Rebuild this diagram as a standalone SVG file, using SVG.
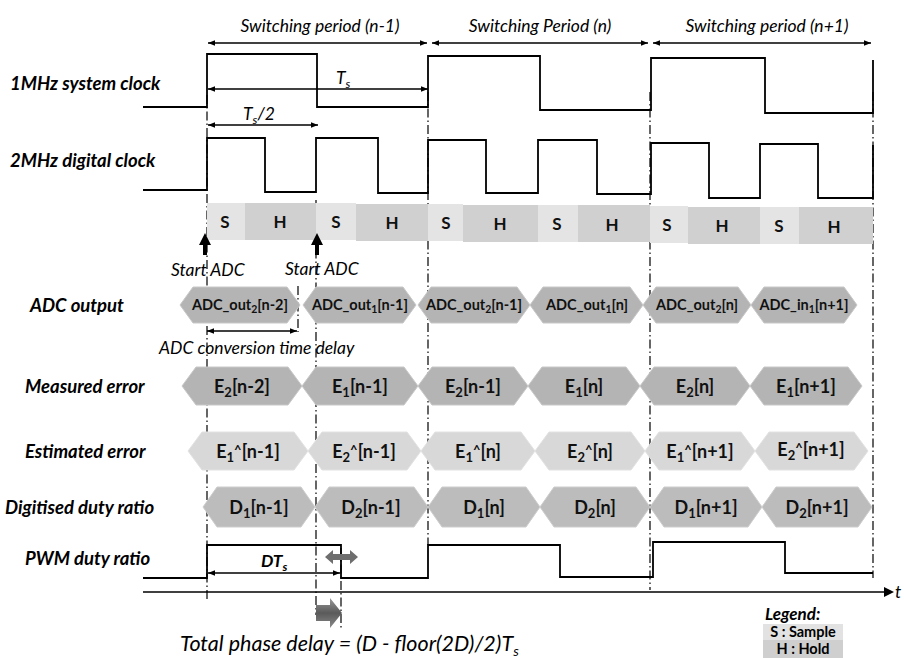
<svg xmlns="http://www.w3.org/2000/svg" width="904" height="658" viewBox="0 0 904 658">
<defs>
<marker id="ah" viewBox="0 0 10 10" refX="10" refY="5" markerWidth="7" markerHeight="7" orient="auto-start-reverse" markerUnits="userSpaceOnUse"><path d="M0,1 L10,5 L0,9 Z" fill="#000"/></marker>
<linearGradient id="bg" x1="0" y1="0" x2="0" y2="1"><stop offset="0" stop-color="#9a9a9a"/><stop offset="0.5" stop-color="#5a5a5a"/><stop offset="1" stop-color="#8a8a8a"/></linearGradient>
<style>
.w{fill:none;stroke:#000;stroke-width:1.8}
.dd{fill:none;stroke:#000;stroke-width:1.2;stroke-dasharray:9 3 1.5 3}
.dim{fill:none;stroke:#000;stroke-width:1.3;marker-start:url(#ah);marker-end:url(#ah)}
.lab{font-family:Lato,"Liberation Sans",sans-serif;font-weight:bold;font-style:italic;font-size:18.5px;fill:#000}
.it{font-family:Lato,"Liberation Sans",sans-serif;font-style:italic;font-size:17.5px;fill:#000}
.hx{font-family:Lato,"Liberation Sans",sans-serif;font-weight:bold;font-size:18px;fill:#111;text-anchor:middle}
.hs{font-family:Lato,"Liberation Sans",sans-serif;font-weight:bold;font-size:14.5px;fill:#111;text-anchor:middle}
.sh{font-family:Lato,"Liberation Sans",sans-serif;font-weight:bold;font-size:17px;fill:#111;text-anchor:middle}
.h1{fill:#b4b4b4;stroke:#c8c8c8;stroke-width:1}
.h2{fill:#d8d8d8;stroke:#e2e2e2;stroke-width:1}
.h3{fill:#bcbcbc;stroke:#cdcdcd;stroke-width:1}
.s{fill:#e4e4e4}
.hh{fill:#d0d0d0}
</style>
</defs>
<rect width="904" height="658" fill="#fff"/>

<g id="guides">
<path class="dd" d="M207,95 V600"/>
<path class="dd" d="M316,200 V615"/>
<path class="dd" d="M298,286 V332"/>
<path class="dd" d="M341,548 V630"/>
<path class="dd" d="M428,92 V545"/>
<path class="dd" d="M650,92 V590"/>
<path class="dd" d="M873,92 V578"/>
</g>

<g id="row-labels">
<text class="lab" x="10" y="90">1MHz system clock</text>
<text class="lab" x="10" y="167">2MHz digital clock</text>
<text class="lab" x="30" y="312">ADC output</text>
<text class="lab" x="25" y="393">Measured error</text>
<text class="lab" x="25" y="458">Estimated error</text>
<text class="lab" x="5" y="514">Digitised duty ratio</text>
<text class="lab" x="25" y="565">PWM duty ratio</text>
</g>

<g id="periods">
<text class="it" x="320" y="32" text-anchor="middle">Switching period (n-1)</text>
<text class="it" x="540" y="32" text-anchor="middle">Switching Period (n)</text>
<text class="it" x="767" y="32" text-anchor="middle">Switching period (n+1)</text>
</g>

<g id="connectors">
<path class="dim" d="M208,43 H427"/>
<path class="dim" d="M432,43 H648"/>
<path class="dim" d="M653,43 H871"/>
<path class="dim" d="M208,89 H428"/>
<path class="dim" d="M208,125 H318"/>
<path class="dim" d="M207,331 H297"/>
<path class="dim" d="M208,573 H340"/>
<path d="M143,592 H884" fill="none" stroke="#000" stroke-width="1.6"/>
<path d="M884,587 L894,592 L884,597 Z" fill="#000"/>
</g>

<g id="dim-labels">
<text class="it" x="336" y="84" font-size="18">T<tspan dy="4" font-size="12">s</tspan></text>
<text class="it" x="243" y="120" font-size="18">T<tspan dy="4" font-size="12">s</tspan><tspan dy="-4">/2</tspan></text>
<text class="it" x="261" y="567" font-size="18" font-weight="bold">DT<tspan dy="4" font-size="12">s</tspan></text>
<text class="it" x="159" y="354">ADC conversion time delay</text>
<text class="it" x="171" y="276" font-size="15">Start ADC</text>
<text class="it" x="285" y="275" font-size="15">Start ADC</text>
<text class="it" x="895" y="598" font-size="18">t</text>
</g>

<g id="clock-1mhz">
<path class="w" d="M143,107 H207 V54 H317 V107 H428 V56 H540 V110 H651 V58 H765 V113 H873 V60"/>
</g>

<g id="clock-2mhz">
<path class="w" d="M143,190 H207 V138 H265 V192 H316 V138 H378 V193 H428 V140 H486 V193 H538 V140 H597 V194 H651 V143 H709 V198 H760 V144 H818 V198 H873 V145"/>
</g>

<g id="sample-hold">
<rect class="s" x="207" y="203" width="38" height="37"/>
<rect class="hh" x="245" y="203" width="71" height="37"/>
<rect class="s" x="316" y="203" width="40" height="37"/>
<rect class="hh" x="356" y="204" width="72" height="37"/>
<rect class="s" x="428" y="204" width="35" height="37"/>
<rect class="hh" x="463" y="205" width="75" height="37"/>
<rect class="s" x="538" y="205" width="40" height="37"/>
<rect class="hh" x="578" y="205" width="72" height="37"/>
<rect class="s" x="650" y="206" width="38" height="37"/>
<rect class="hh" x="688" y="207" width="72" height="37"/>
<rect class="s" x="760" y="207" width="39" height="37"/>
<rect class="hh" x="799" y="207" width="74" height="37"/>
<text class="sh" x="225" y="228">S</text>
<text class="sh" x="280" y="228">H</text>
<text class="sh" x="336" y="228">S</text>
<text class="sh" x="392" y="229">H</text>
<text class="sh" x="446" y="229">S</text>
<text class="sh" x="500" y="230">H</text>
<text class="sh" x="557" y="230">S</text>
<text class="sh" x="612" y="231">H</text>
<text class="sh" x="667" y="231">S</text>
<text class="sh" x="722" y="232">H</text>
<text class="sh" x="779" y="232">S</text>
<text class="sh" x="834" y="233">H</text>
</g>

<g id="start-adc-arrows">
<path d="M205,233 L211,245 L207,245 L207,255 L203,255 L203,245 L199,245 Z" fill="#000"/>
<path d="M317,233 L323,245 L319,245 L319,255 L315,255 L315,245 L311,245 Z" fill="#000"/>
</g>

<g id="adc-output">
<path class="h1" d="M180,305 L193,287 L287,287 L300,305 L287,323 L193,323 Z"/>
<text class="hs" x="240" y="310">ADC_out<tspan dy="3" font-size="10.5">2</tspan><tspan dy="-3">[n-2]</tspan></text>
<path class="h1" d="M303,305 L316,287 L403,287 L416,305 L403,323 L316,323 Z"/>
<text class="hs" x="360" y="310">ADC_out<tspan dy="3" font-size="10.5">1</tspan><tspan dy="-3">[n-1]</tspan></text>
<path class="h1" d="M418,305 L431,287 L517,287 L530,305 L517,323 L431,323 Z"/>
<text class="hs" x="474" y="310">ADC_out<tspan dy="3" font-size="10.5">2</tspan><tspan dy="-3">[n-1]</tspan></text>
<path class="h1" d="M530,305 L543,287 L630,287 L643,305 L630,323 L543,323 Z"/>
<text class="hs" x="587" y="310">ADC_out<tspan dy="3" font-size="10.5">1</tspan><tspan dy="-3">[n]</tspan></text>
<path class="h1" d="M643,305 L656,287 L738,287 L751,305 L738,323 L656,323 Z"/>
<text class="hs" x="697" y="310">ADC_out<tspan dy="3" font-size="10.5">2</tspan><tspan dy="-3">[n]</tspan></text>
<path class="h1" d="M751,305 L764,287 L844,287 L857,305 L844,323 L764,323 Z"/>
<text class="hs" x="804" y="310">ADC_in<tspan dy="3" font-size="10.5">1</tspan><tspan dy="-3">[n+1]</tspan></text>
</g>

<g id="measured-error">
<path class="h1" d="M182,386 L196,367 L288,367 L302,386 L288,405 L196,405 Z"/>
<text class="hx" x="242" y="393">E<tspan dy="4" font-size="13">2</tspan><tspan dy="-4">[n-2]</tspan></text>
<path class="h1" d="M302,386 L316,367 L404,367 L418,386 L404,405 L316,405 Z"/>
<text class="hx" x="360" y="393">E<tspan dy="4" font-size="13">1</tspan><tspan dy="-4">[n-1]</tspan></text>
<path class="h1" d="M418,386 L432,367 L514,367 L528,386 L514,405 L432,405 Z"/>
<text class="hx" x="473" y="393">E<tspan dy="4" font-size="13">2</tspan><tspan dy="-4">[n-1]</tspan></text>
<path class="h1" d="M528,386 L542,367 L626,367 L640,386 L626,405 L542,405 Z"/>
<text class="hx" x="584" y="393">E<tspan dy="4" font-size="13">1</tspan><tspan dy="-4">[n]</tspan></text>
<path class="h1" d="M640,386 L654,367 L736,367 L750,386 L736,405 L654,405 Z"/>
<text class="hx" x="695" y="393">E<tspan dy="4" font-size="13">2</tspan><tspan dy="-4">[n]</tspan></text>
<path class="h1" d="M750,386 L764,367 L848,367 L862,386 L848,405 L764,405 Z"/>
<text class="hx" x="806" y="393">E<tspan dy="4" font-size="13">1</tspan><tspan dy="-4">[n+1]</tspan></text>
</g>

<g id="estimated-error">
<path class="h2" d="M188,451 L202,432 L294,432 L308,451 L294,470 L202,470 Z"/>
<text class="hx" x="248" y="458">E<tspan dy="4" font-size="13">1</tspan><tspan dy="-7" font-size="13">^</tspan><tspan dy="3">[n-1]</tspan></text>
<path class="h2" d="M308,451 L322,432 L407,432 L421,451 L407,470 L322,470 Z"/>
<text class="hx" x="364" y="458">E<tspan dy="4" font-size="13">2</tspan><tspan dy="-7" font-size="13">^</tspan><tspan dy="3">[n-1]</tspan></text>
<path class="h2" d="M421,451 L435,432 L521,432 L535,451 L521,470 L435,470 Z"/>
<text class="hx" x="478" y="458">E<tspan dy="4" font-size="13">1</tspan><tspan dy="-7" font-size="13">^</tspan><tspan dy="3">[n]</tspan></text>
<path class="h2" d="M535,451 L549,432 L631,432 L645,451 L631,470 L549,470 Z"/>
<text class="hx" x="590" y="458">E<tspan dy="4" font-size="13">2</tspan><tspan dy="-7" font-size="13">^</tspan><tspan dy="3">[n]</tspan></text>
<path class="h2" d="M645,451 L659,432 L741,432 L755,451 L741,470 L659,470 Z"/>
<text class="hx" x="700" y="458">E<tspan dy="4" font-size="13">1</tspan><tspan dy="-7" font-size="13">^</tspan><tspan dy="3">[n+1]</tspan></text>
<path class="h2" d="M755,451 L769,432 L854,432 L868,451 L854,470 L769,470 Z"/>
<text class="hx" x="811" y="456">E<tspan dy="4" font-size="13">2</tspan><tspan dy="-7" font-size="13">^</tspan><tspan dy="3">[n+1]</tspan></text>
</g>

<g id="digitised-duty">
<path class="h3" d="M203,507 L217,487 L301,487 L315,507 L301,527 L217,527 Z"/>
<text class="hx" x="259" y="514">D<tspan dy="4" font-size="13">1</tspan><tspan dy="-4">[n-1]</tspan></text>
<path class="h3" d="M315,507 L329,487 L414,487 L428,507 L414,527 L329,527 Z"/>
<text class="hx" x="371" y="514">D<tspan dy="4" font-size="13">2</tspan><tspan dy="-4">[n-1]</tspan></text>
<path class="h3" d="M428,507 L442,487 L526,487 L540,507 L526,527 L442,527 Z"/>
<text class="hx" x="484" y="514">D<tspan dy="4" font-size="13">1</tspan><tspan dy="-4">[n]</tspan></text>
<path class="h3" d="M540,507 L554,487 L636,487 L650,507 L636,527 L554,527 Z"/>
<text class="hx" x="595" y="514">D<tspan dy="4" font-size="13">2</tspan><tspan dy="-4">[n]</tspan></text>
<path class="h3" d="M650,507 L664,487 L748,487 L762,507 L748,527 L664,527 Z"/>
<text class="hx" x="706" y="514">D<tspan dy="4" font-size="13">1</tspan><tspan dy="-4">[n+1]</tspan></text>
<path class="h3" d="M762,507 L776,487 L858,487 L872,507 L858,527 L776,527 Z"/>
<text class="hx" x="817" y="514">D<tspan dy="4" font-size="13">2</tspan><tspan dy="-4">[n+1]</tspan></text>
</g>

<g id="pwm">
<path class="w" d="M143,578 H207 V545 H341 V578 H428 V545 H560 V577 H653 V542 H785 V573 H873"/>
</g>

<g id="phase-delay">
<path d="M325,557 L333,550 L333,554 L350,554 L350,550 L358,557 L350,564 L350,560 L333,560 L333,564 Z" fill="#6e6e6e"/>
<path d="M316,605 L330,605 L330,598 L342,613 L330,628 L330,621 L316,621 Z" fill="url(#bg)"/>
<text x="180" y="651" font-family="Lato,'Liberation Sans',sans-serif" font-style="italic" font-size="21.5" fill="#000">Total phase delay = (D - floor(2D)/2)T<tspan dy="5" font-size="14">s</tspan></text>
</g>

<g id="legend">
<text x="765" y="620" font-family="Lato,'Liberation Sans',sans-serif" font-style="italic" font-weight="bold" font-size="17" fill="#000">Legend:</text>
<rect x="763" y="624" width="80" height="16" fill="#e2e2e2"/>
<rect x="763" y="640" width="80" height="18" fill="#cfcfcf"/>
<text x="803" y="637" text-anchor="middle" font-family="Lato,'Liberation Sans',sans-serif" font-weight="bold" font-size="14.5" fill="#000">S : Sample</text>
<text x="803" y="654" text-anchor="middle" font-family="Lato,'Liberation Sans',sans-serif" font-weight="bold" font-size="14.5" fill="#000">H : Hold</text>
</g>
</svg>
